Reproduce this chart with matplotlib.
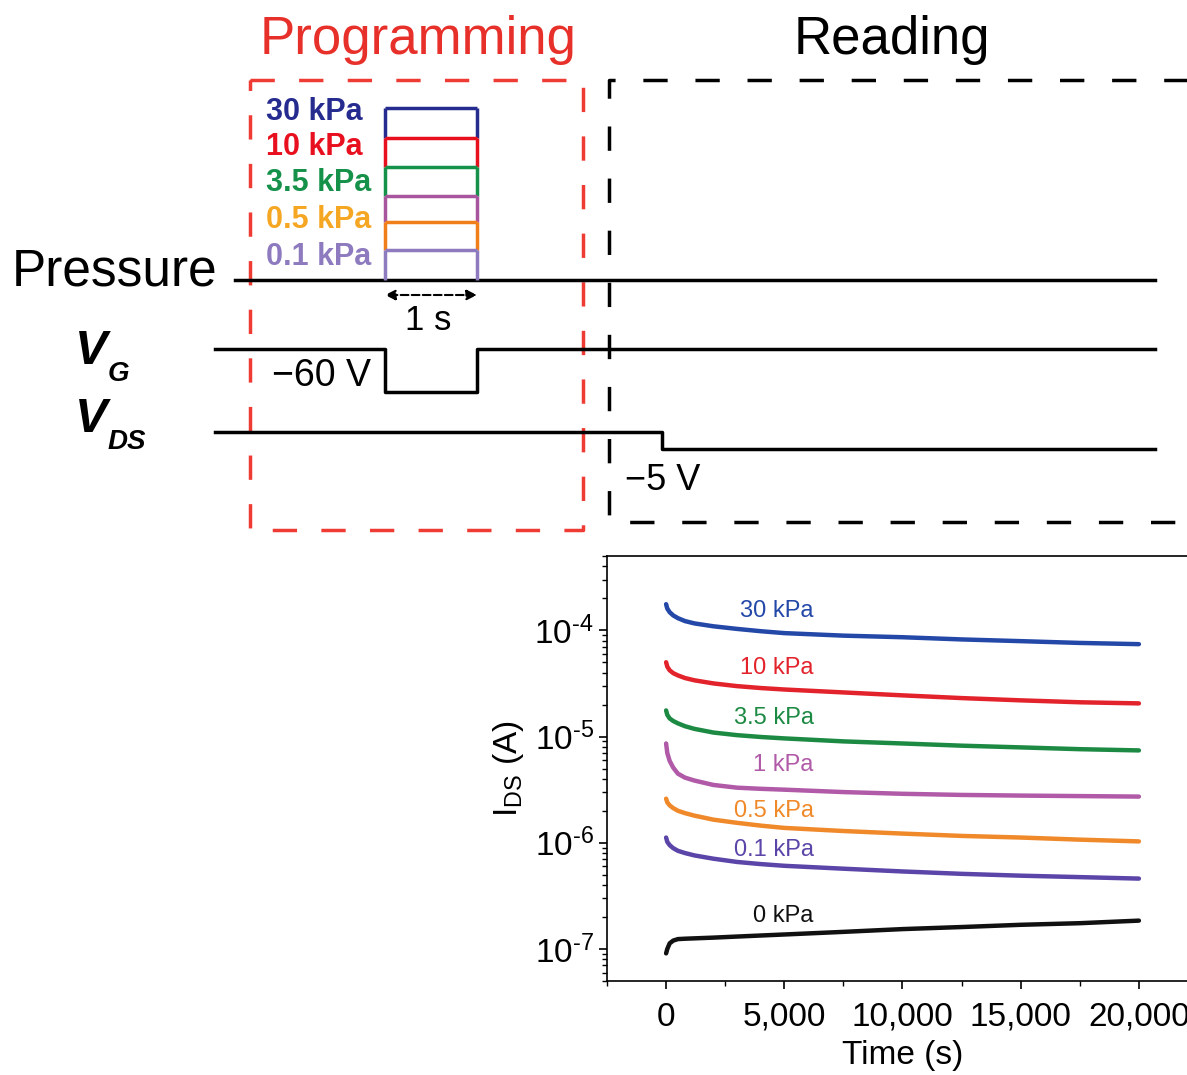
import numpy as np
import matplotlib
matplotlib.use("Agg")
import matplotlib.pyplot as plt
from matplotlib.ticker import FixedLocator, FixedFormatter

plt.rcParams['font.family'] = ['Liberation Sans', 'DejaVu Sans']
plt.rcParams['mathtext.fontset'] = 'custom'
plt.rcParams['mathtext.rm'] = 'Liberation Sans'
plt.rcParams['mathtext.it'] = 'Liberation Sans:italic'
plt.rcParams['mathtext.bf'] = 'Liberation Sans:bold'

# ---- retention data ----
time_s = [0, 50, 150, 300, 500, 800, 1200, 2000, 3000, 4000, 5000,
          7500, 10000, 12500, 15000, 17500, 20000]
i_30kpa = [1.76e-4, 1.6e-4, 1.48e-4, 1.38e-4, 1.3e-4, 1.22e-4, 1.16e-4, 1.09e-4, 1.03e-4, 9.8e-5, 9.4e-5,
           8.9e-5, 8.6e-5, 8.2e-5, 7.9e-5, 7.6e-5, 7.4e-5]
i_10kpa = [5.0e-5, 4.55e-5, 4.2e-5, 3.95e-5, 3.76e-5, 3.55e-5, 3.38e-5, 3.16e-5, 2.98e-5, 2.86e-5, 2.77e-5,
           2.6e-5, 2.44e-5, 2.3e-5, 2.19e-5, 2.1e-5, 2.05e-5]
i_3p5kpa = [1.76e-5, 1.6e-5, 1.48e-5, 1.4e-5, 1.33e-5, 1.25e-5, 1.18e-5, 1.09e-5, 1.03e-5, 9.9e-6, 9.6e-6,
            9.0e-6, 8.6e-6, 8.2e-6, 7.9e-6, 7.6e-6, 7.4e-6]
i_1kpa = [8.6e-6, 7.0e-6, 5.9e-6, 5.1e-6, 4.47e-6, 4.1e-6, 3.85e-6, 3.5e-6, 3.3e-6, 3.22e-6, 3.16e-6,
          3.0e-6, 2.89e-6, 2.82e-6, 2.78e-6, 2.75e-6, 2.72e-6]
i_0p5kpa = [2.6e-6, 2.4e-6, 2.25e-6, 2.12e-6, 2.0e-6, 1.9e-6, 1.8e-6, 1.65e-6, 1.54e-6, 1.45e-6, 1.38e-6,
            1.29e-6, 1.22e-6, 1.16e-6, 1.12e-6, 1.07e-6, 1.03e-6]
i_0p1kpa = [1.12e-6, 1.02e-6, 9.5e-7, 8.9e-7, 8.4e-7, 8.0e-7, 7.6e-7, 7.08e-7, 6.6e-7, 6.3e-7, 6.07e-7,
            5.7e-7, 5.37e-7, 5.1e-7, 4.9e-7, 4.75e-7, 4.6e-7]
i_0kpa = [9.1e-8, 1.0e-7, 1.13e-7, 1.2e-7, 1.24e-7, 1.25e-7, 1.26e-7, 1.28e-7, 1.31e-7, 1.34e-7, 1.37e-7,
          1.45e-7, 1.54e-7, 1.61e-7, 1.69e-7, 1.75e-7, 1.85e-7]

curve_labels = ['30 kPa', '10 kPa', '3.5 kPa', '1 kPa', '0.5 kPa', '0.1 kPa', '0 kPa']
curve_colors = ['#2448a8', '#e3232b', '#1d8a44', '#b05aa8', '#f0892a', '#5b45a8', '#111111']
label_y = [1.51e-4, 4.46e-5, 1.48e-5, 5.35e-6, 2.0e-6, 8.6e-7, 2.04e-7]
label_x = 6250

y_ticks = [1e-7, 1e-6, 1e-5, 1e-4]
y_tick_labels = ['10$^{\u20107}$', '10$^{\u20106}$', '10$^{\u20105}$', '10$^{\u20104}$']
x_ticks = [0, 5000, 10000, 15000, 20000]
x_tick_labels = ['0', '5,000', '10,000', '15,000', '20,000']

# ---- schematic content ----
prog_labels = ['30 kPa', '10 kPa', '3.5 kPa', '', '0.5 kPa', '0.1 kPa']
prog_colors = ['#262b8f', '#e8101e', '#15914a', '#a8559e', '#f07f1a', '#8e7bbf']
prog_text_colors = ['#262b8f', '#e8101e', '#15914a', '#a8559e', '#f5a623', '#8e7bbf']
# pixel rows of each pressure level in the schematic, top to bottom, then baseline
level_rows = [108, 138, 167, 196, 222, 250, 280]
label_rows = [112, 147, 183, None, 220, 257]

fig = plt.figure(figsize=(11.87, 10.75), dpi=100)

# overlay for the schematic in pixel space
sk = fig.add_axes([0, 0, 1, 1])
sk.set_xlim(0, 1187)
sk.set_ylim(1075, 0)
sk.axis('off')

red = '#e8302a'
sk.text(418, 40, 'Programming', color=red, fontsize=38, ha='center', va='center')
sk.text(892, 40, 'Reading', color='black', fontsize=38, ha='center', va='center')

# dashed frames
sk.plot([250, 583, 583, 250, 250], [80, 80, 530, 530, 80], color='#ee3b33', lw=2.5,
        ls=(0, (7, 7)))
sk.plot([1200, 609, 609, 1200], [80, 80, 522, 522], color='black', lw=2.5,
        ls=(0, (7, 8)))

# pressure line and step box
sk.plot([235, 1155], [280, 280], color='black', lw=2.5)
sk.text(12, 272, 'Pressure', fontsize=37, ha='left', va='center')
box_l, box_r = 385, 477
for k, col in enumerate(prog_colors):
    top, bot = level_rows[k], level_rows[k + 1]
    sk.plot([box_l, box_r], [top, top], color=col, lw=2.5, solid_capstyle='butt')
    sk.plot([box_l, box_l], [top, bot], color=col, lw=2.5, solid_capstyle='butt')
    sk.plot([box_r, box_r], [top, bot], color=col, lw=2.5, solid_capstyle='butt')
    if prog_labels[k]:
        sk.text(266, label_rows[k], prog_labels[k], color=prog_text_colors[k],
                fontsize=22, fontweight='bold', ha='left', va='center')

# 1 s arrow
sk.annotate('', xy=(box_l, 295), xytext=(box_r, 295),
            arrowprops=dict(arrowstyle='<|-|>', color='black', lw=1.5, ls='--',
                            mutation_scale=15, shrinkA=0, shrinkB=0))
sk.text(428, 320, '1 s', fontsize=25, ha='center', va='center')

# V_G trace
sk.plot([215, box_l, box_l, box_r, box_r, 1155], [349, 349, 392, 392, 349, 349],
        color='black', lw=2.5)
sk.text(75, 352, 'V', fontsize=35, fontweight='bold', style='italic', ha='left', va='center')
sk.text(108, 374, 'G', fontsize=20, fontweight='bold', style='italic', ha='left', va='center')
sk.text(272, 376, '\u221260 V', fontsize=27, ha='left', va='center')

# V_DS trace
sk.plot([215, 662, 662, 1155], [432, 432, 449, 449], color='black', lw=2.5)
sk.text(75, 420, 'V', fontsize=35, fontweight='bold', style='italic', ha='left', va='center')
sk.text(108, 442, 'DS', fontsize=20, fontweight='bold', style='italic', ha='left', va='center')
sk.text(625, 481, '\u22125 V', fontsize=26, ha='left', va='center')

# ---- retention plot ----
ax = fig.add_axes([607 / 1187, 1 - 981 / 1075, (1198 - 607) / 1187, (981 - 556) / 1075])
series = [i_30kpa, i_10kpa, i_3p5kpa, i_1kpa, i_0p5kpa, i_0p1kpa, i_0kpa]
for vals, col, lab, ly in zip(series, curve_colors, curve_labels, label_y):
    ax.plot(time_s, vals, color=col, lw=3.2, solid_capstyle='round', solid_joinstyle='round')
    ax.text(label_x, ly, lab, color=col, fontsize=17, ha='right', va='center')

ax.set_yscale('log')
ax.set_ylim(5e-8, 5e-4)
ax.set_xlim(-2500, 22500)
ax.yaxis.set_major_locator(FixedLocator(y_ticks))
ax.yaxis.set_major_formatter(FixedFormatter(y_tick_labels))
ax.set_xticks(x_ticks)
ax.set_xticklabels(x_tick_labels)
ax.set_xticks(np.arange(-2500, 22501, 2500), minor=True)
ax.tick_params(axis='both', which='major', labelsize=24, direction='out', length=6, width=1.2)
ax.tick_params(axis='both', which='minor', direction='out', length=3.5, width=1)
ax.tick_params(axis='x', pad=9)
ax.set_xlabel('Time (s)', fontsize=24, labelpad=5)
ax.set_ylabel(r'I$_{\rm DS}$ (A)', fontsize=24, labelpad=6)
for s in ax.spines.values():
    s.set_linewidth(1.2)

fig.savefig('out.png', dpi=100)
